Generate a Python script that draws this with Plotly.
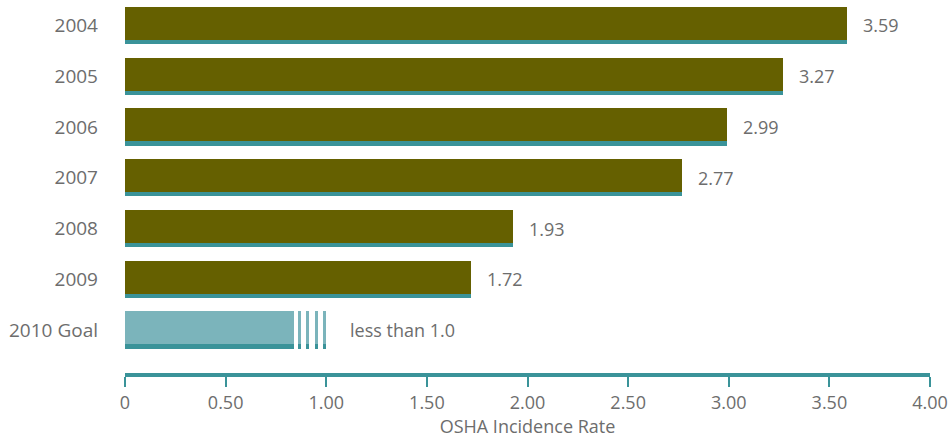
import plotly.graph_objects as go

# Injury-rate data by year, plus the 2010 target
years = ["2004", "2005", "2006", "2007", "2008", "2009"]
rates = [3.59, 3.27, 2.99, 2.77, 1.93, 1.72]
rate_labels = ["3.59", "3.27", "2.99", "2.77", "1.93", "1.72"]
goal_label = "2010 Goal"
goal_rate = 1.0
goal_text = "less than 1.0"

x_tick_vals = [0, 0.5, 1.0, 1.5, 2.0, 2.5, 3.0, 3.5, 4.0]
x_tick_text = ["0", "0.50", "1.00", "1.50", "2.00", "2.50", "3.00", "3.50", "4.00"]
x_title = "OSHA Incidence Rate"

OLIVE = "#656000"
TEAL = "#3a9399"
LIGHT_TEAL = "#7bb4bb"
TEXT = "#6d6d6d"
FONT = "Open Sans"

BAR_W = 0.73      # full bar thickness (category units)
TOP_W = 0.65      # coloured part above the teal base strip
OFF = -BAR_W / 2  # bars hang from the same top edge

positions = list(range(len(years)))
goal_pos = len(years)

fig = go.Figure()

# teal base strip under each yearly bar
fig.add_trace(go.Bar(
    y=positions, x=rates, orientation="h",
    width=BAR_W, offset=OFF,
    marker=dict(color=TEAL, line=dict(width=0)),
    hoverinfo="skip", showlegend=False,
))
# olive body of each yearly bar
fig.add_trace(go.Bar(
    y=positions, x=rates, orientation="h",
    width=TOP_W, offset=OFF,
    marker=dict(color=OLIVE, line=dict(width=0)),
    showlegend=False,
))

# goal bar: solid portion followed by fading stripes ending at the goal value
solid_frac = 0.84
stripe_starts = [0.858, 0.900, 0.942, 0.984]
stripe_w = 0.016
seg_base = [0.0] + [goal_rate * s for s in stripe_starts]
seg_len = [goal_rate * solid_frac] + [goal_rate * stripe_w] * len(stripe_starts)
seg_pos = [goal_pos] * len(seg_base)

fig.add_trace(go.Bar(
    y=seg_pos, x=seg_len, base=seg_base, orientation="h",
    width=BAR_W, offset=OFF,
    marker=dict(color=TEAL, line=dict(width=0)),
    hoverinfo="skip", showlegend=False,
))
fig.add_trace(go.Bar(
    y=seg_pos, x=seg_len, base=seg_base, orientation="h",
    width=TOP_W, offset=OFF,
    marker=dict(color=LIGHT_TEAL, line=dict(width=0)),
    showlegend=False,
))

# value labels to the right of each bar
for p, v, t in zip(positions, rates, rate_labels):
    fig.add_annotation(x=v, y=p, text=t, showarrow=False, xanchor="left",
                       yanchor="middle", xshift=14,
                       font=dict(family=FONT, size=18, color=TEXT))
fig.add_annotation(x=goal_rate, y=goal_pos, text=goal_text, showarrow=False,
                   xanchor="left", yanchor="middle", xshift=22,
                   font=dict(family=FONT, size=18, color=TEXT))

fig.update_layout(
    width=949, height=444,
    margin=dict(l=125, r=19, t=0, b=71, autoexpand=False),
    paper_bgcolor="white", plot_bgcolor="white",
    barmode="overlay", bargap=0,
    font=dict(family=FONT, size=18, color=TEXT),
    xaxis=dict(
        range=[0, 4], tickvals=x_tick_vals, ticktext=x_tick_text,
        showgrid=False, zeroline=False,
        showline=True, linecolor=TEAL, linewidth=4,
        ticks="outside", ticklen=10, tickwidth=2, tickcolor=TEAL,
        tickfont=dict(family=FONT, size=18, color=TEXT),
        title=dict(text=x_title, standoff=8,
                   font=dict(family=FONT, size=18, color=TEXT)),
        automargin=False, fixedrange=True,
    ),
    yaxis=dict(
        range=[6.847, -0.502],
        tickvals=positions + [goal_pos], ticktext=years + [goal_label],
        showgrid=False, zeroline=False, showline=False, ticks="",
        ticklabelstandoff=26,
        tickfont=dict(family=FONT, size=19, color=TEXT),
        automargin=False, fixedrange=True,
    ),
)

fig.write_html("out.html")
